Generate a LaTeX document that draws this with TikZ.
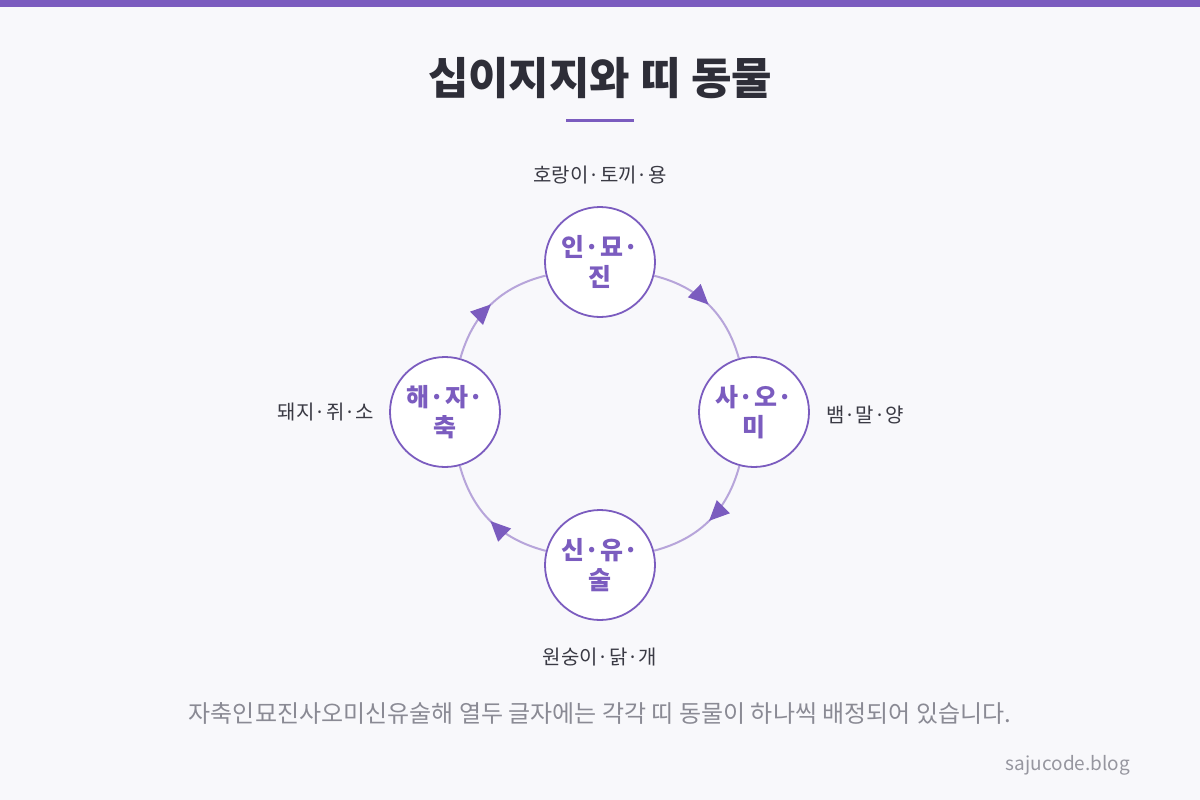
\documentclass[tikz,border=0pt]{standalone}
\usepackage{fontspec}
\setmainfont{Noto Sans CJK KR}
\usetikzlibrary{arrows.meta,decorations.markings}
\definecolor{bgcol}{HTML}{F8F8FB}
\definecolor{purp}{HTML}{7B5CBF}
\definecolor{ringcol}{HTML}{B7A5DA}
\definecolor{titlecol}{HTML}{2E2E38}
\definecolor{txtcol}{HTML}{3A3A44}
\definecolor{capcol}{HTML}{8A8A94}
\tikzset{
  branch/.style={circle, draw=purp, line width=1.8pt, fill=white, minimum size=110pt,
    inner sep=0pt, align=center, text=purp, font=\bfseries\fontsize{25}{30}\selectfont},
  animal/.style={text=txtcol, font=\fontsize{20}{24}\selectfont},
  ring/.style={draw=ringcol, line width=2pt, bend left=30,
    postaction={decorate, decoration={markings,
      mark=at position 0.5 with {\arrow[purp]{Triangle[length=20pt,width=18pt]}}}}}
}
\begin{document}
\begin{tikzpicture}[x=1pt,y=-1pt]
\fill[bgcol] (0,0) rectangle (1200,800);
\fill[purp] (0,0) rectangle (1200,7);
\node[text=titlecol, font=\bfseries\fontsize{44}{50}\selectfont] (title) at (600,78) {십이지지와 띠 동물};
\draw[purp, line width=3pt] (566,120) -- (634,120);
% branch groups
\node[branch] (top) at (600,262) {인·묘·\\진};
\node[branch] (right) at (754,412) {사·오·\\미};
\node[branch] (bottom) at (600,565) {신·유·\\술};
\node[branch] (left) at (445,412) {해·자·\\축};
% ring
\draw[ring] (top) to (right);
\draw[ring] (right) to (bottom);
\draw[ring] (bottom) to (left);
\draw[ring] (left) to (top);
% animals
\node[animal] (atop) at (600,175) {호랑이·토끼·용};
\node[animal] (aright) at (865,415) {뱀·말·양};
\node[animal] (abottom) at (600,657) {원숭이·닭·개};
\node[animal] (aleft) at (326,412) {돼지·쥐·소};
\node[text=capcol, font=\fontsize{24}{28}\selectfont] (caption) at (600,713) {자축인묘진사오미신유술해 열두 글자에는 각각 띠 동물이 하나씩 배정되어 있습니다.};
\node[text=capcol!90, font=\fontsize{19}{22}\selectfont] (site) at (1068,765) {sajucode.blog};
\end{tikzpicture}
\end{document}
